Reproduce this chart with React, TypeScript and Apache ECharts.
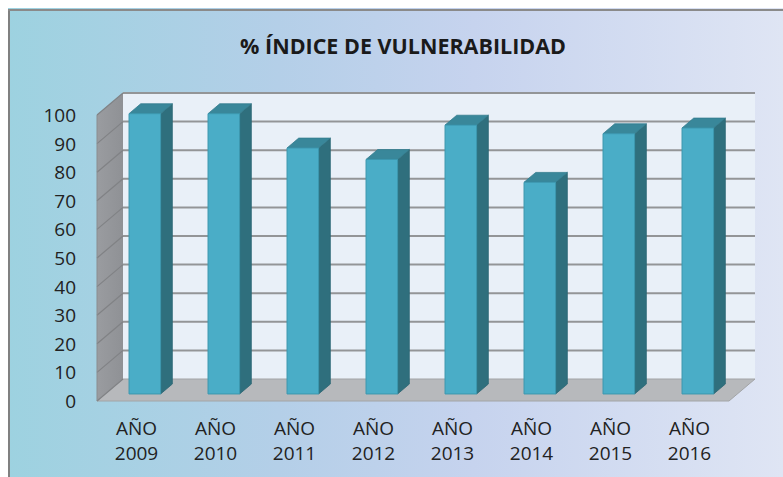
import React, { useEffect, useRef } from "react";
import * as echarts from "echarts";

const categories = ["AÑO\n2009", "AÑO\n2010", "AÑO\n2011", "AÑO\n2012", "AÑO\n2013", "AÑO\n2014", "AÑO\n2015", "AÑO\n2016"];
const values = [98, 98, 86, 82, 94, 74, 91, 93];
const yTicks = [0, 10, 20, 30, 40, 50, 60, 70, 80, 90, 100];
const titleText = "% ÍNDICE DE VULNERABILIDAD";

const DX = 26;
const DY = -22;
const TF = 0.32;
const TB = 0.77;
const FONT = "'Open Sans', 'Noto Sans', sans-serif";

export default function App() {
  const ref = useRef<HTMLDivElement>(null);
  useEffect(() => {
    if (!ref.current) return;
    const chart = echarts.init(ref.current, undefined, { renderer: "svg" });

    const wallsRender = (params: any, api: any) => {
      const bw = api.size([1, 0])[0];
      const c0 = api.coord([0, 0]);
      const c7 = api.coord([categories.length - 1, 0]);
      const L = c0[0] - bw / 2;
      const R = c7[0] + bw / 2;
      const y0 = api.coord([0, 0])[1];
      const y100 = api.coord([0, 100])[1];
      const children: any[] = [];
      children.push({
        type: "rect",
        shape: { x: L + DX, y: y100 + DY, width: R - L, height: y0 - y100 },
        style: { fill: "#e9f0f8" },
      });
      children.push({
        type: "polygon",
        shape: { points: [[L + DX, y100 + DY], [L + DX, y0 + DY], [L, y0], [L, y100]] },
        style: {
          fill: new echarts.graphic.LinearGradient(0, 0, 1, 0, [
            { offset: 0, color: "#9a9ca0" },
            { offset: 1, color: "#8f9195" },
          ]),
        },
      });
      children.push({
        type: "polygon",
        shape: { points: [[L + DX, y0 + DY], [R + DX, y0 + DY], [R, y0], [L, y0]] },
        style: { fill: "#b7b9bc", stroke: "#a2a4a6", lineWidth: 1 },
      });
      yTicks.forEach((v) => {
        const yv = api.coord([0, v])[1];
        if (v > 0) {
          children.push({
            type: "line",
            shape: { x1: L + DX, y1: yv + DY, x2: R + DX, y2: yv + DY },
            style: { stroke: "#939597", lineWidth: 2 },
          });
        }
        children.push({
          type: "line",
          shape: { x1: L, y1: yv, x2: L + DX, y2: yv + DY },
          style: { stroke: "#808285", lineWidth: 1.2 },
        });
      });
      children.push({
        type: "line",
        shape: { x1: L, y1: y100, x2: L, y2: y0 },
        style: { stroke: "#8a8c8f", lineWidth: 1 },
      });
      return { type: "group", children };
    };

    const barsRender = (params: any, api: any) => {
      const i = api.value(0);
      const v = api.value(1);
      const bw = api.size([1, 0])[0];
      const top = api.coord([i, v]);
      const base = api.coord([i, 0]);
      const w = bw * 0.4;
      const cx = top[0];
      const x0f = cx - w / 2 + TF * DX;
      const x1f = cx + w / 2 + TF * DX;
      const x0b = cx - w / 2 + TB * DX;
      const x1b = cx + w / 2 + TB * DX;
      const ytf = top[1] + TF * DY;
      const ybf = base[1] + TF * DY;
      const ytb = top[1] + TB * DY;
      const ybb = base[1] + TB * DY;
      return {
        type: "group",
        children: [
          {
            type: "polygon",
            shape: { points: [[x1f, ytf], [x1b, ytb], [x1b, ybb], [x1f, ybf]] },
            style: { fill: "#2f6f7d", stroke: "#2a6472", lineWidth: 0.8 },
          },
          {
            type: "polygon",
            shape: { points: [[x0f, ytf], [x0b, ytb], [x1b, ytb], [x1f, ytf]] },
            style: { fill: "#39879a", stroke: "#337c8e", lineWidth: 0.8 },
          },
          {
            type: "rect",
            shape: { x: x0f, y: ytf, width: w, height: ybf - ytf },
            style: { fill: "#4aadc7", stroke: "#3c97af", lineWidth: 1 },
          },
        ],
      };
    };

    chart.setOption({
      animation: false,
      backgroundColor: new echarts.graphic.LinearGradient(0, 0, 1, 0, [
        { offset: 0, color: "#9dd2e0" },
        { offset: 0.35, color: "#b4cfe8" },
        { offset: 0.6, color: "#c6d3ee" },
        { offset: 1, color: "#dfe5f4" },
      ]),
      graphic: [
        {
          type: "text",
          x: 395,
          y: 37,
          style: {
            text: titleText,
            align: "center",
            verticalAlign: "middle",
            fill: "#1a1a1a",
            font: `bold 21.5px ${FONT}`,
          },
        },
        {
          type: "line",
          shape: { x1: 1, y1: 1, x2: 1, y2: 469 },
          style: { stroke: "#808080", lineWidth: 2 },
        },
        {
          type: "line",
          shape: { x1: 0, y1: 2, x2: 775, y2: 2 },
          style: { stroke: "#8a8a8a", lineWidth: 2 },
        },
      ],
      grid: { left: 89, top: 107, width: 632, height: 286, containLabel: false },
      xAxis: {
        type: "category",
        data: categories,
        axisLine: { show: false },
        axisTick: { show: false },
        axisLabel: {
          margin: 14,
          fontSize: 19,
          lineHeight: 25,
          color: "#222222",
          fontFamily: FONT,
          interval: 0,
        },
      },
      yAxis: {
        type: "value",
        min: 0,
        max: 100,
        interval: 10,
        axisLine: { show: false },
        axisTick: { show: false },
        splitLine: { show: false },
        axisLabel: {
          margin: 21,
          fontSize: 19,
          color: "#222222",
          fontFamily: FONT,
        },
      },
      series: [
        {
          type: "custom",
          name: "walls",
          renderItem: wallsRender,
          data: [[0, 0]],
          z: 1,
          silent: true,
        },
        {
          type: "custom",
          name: "% Índice",
          renderItem: barsRender,
          data: values.map((v, i) => [i, v]),
          encode: { x: 0, y: 1 },
          z: 5,
        },
      ],
    });
    return () => chart.dispose();
  }, []);
  return (
    <div
      ref={ref}
      style={{ position: "absolute", left: 8, top: 8, width: 775, height: 469 }}
    />
  );
}
